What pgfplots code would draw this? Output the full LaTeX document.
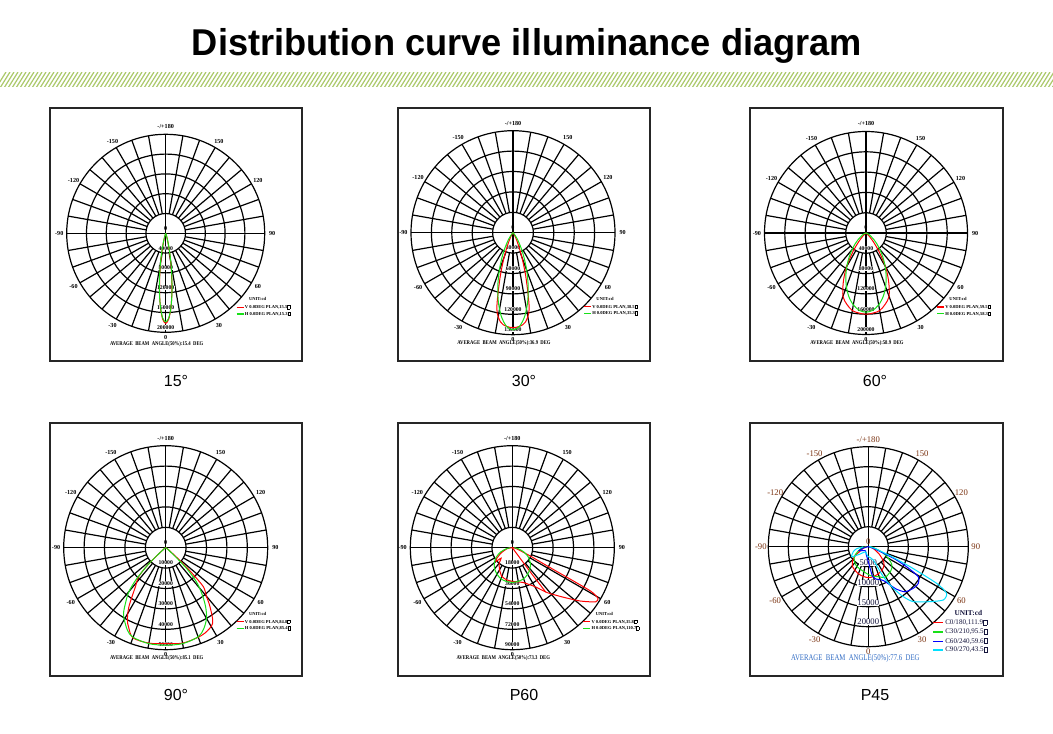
\documentclass[border=0pt]{standalone}
\usepackage{pgfplots}
\pgfplotsset{compat=1.18}
\usepackage{pgfplotstable}
\usepackage{graphicx}
\usepackage{fontspec}
\setmainfont{Liberation Serif}
\newfontfamily\sansf{Liberation Sans}

\definecolor{band}{HTML}{9CBF4F}
\definecolor{cgreen}{HTML}{18E018}
\definecolor{ccyan}{HTML}{00E0FF}
\definecolor{brn}{HTML}{7A3210}
\definecolor{avgblue}{HTML}{2F6BC4}
\definecolor{navy}{HTML}{14143C}

\newcommand\tf{\fontsize{4.3}{5}\selectfont\bfseries}
\newcommand\af{\fontsize{4.6}{5}\selectfont\bfseries}
\newcommand\lf{\fontsize{3.4}{4}\selectfont\bfseries}
\newcommand\mf{\fontsize{6.5}{7.5}\selectfont}
\newcommand\sq{{\setlength\fboxsep{0pt}\setlength\fboxrule{0.35pt}\fbox{\rule{0pt}{0.65em}\hspace{0.45em}}}}

\newcommand\setpanel[3]{\def\pcx{#1}\def\pcy{#2}\def\pR{#3}\pgfmathsetlengthmacro\pRl{#3*0.75pt}}

\newcommand\pgrid{%
\begin{scope}[shift={(\pcx*0.75pt,-\pcy*0.75pt)},x=\pRl,y=\pRl,line width=0.9pt]
 \foreach \r in {0.2,0.4,0.6,0.8,1.0}{\draw (0,0) circle[radius=\r];}
 \foreach \a in {0,10,...,350}{\draw (\a:0.2) -- (\a:1);}
 \draw (-1,0) -- (1,0); \draw (0,-1) -- (0,1);
\end{scope}}

\newcommand\alabels[2]{%
\begin{scope}[shift={(\pcx*0.75pt,-\pcy*0.75pt)},x=\pRl,y=\pRl,every node/.style={font=#1,text=#2,inner sep=0pt}]
 \node at (90:1.075) {-/+180};
 \foreach \t in {150,120,90,60,30}{\node at ({\t-90}:1.075) {\t}; \node at ({-\t-90}:1.075) {-\t};}
 \node at (-90:1.05) {0};
 \node at (0,0.05) {0};
\end{scope}}

\newcommand\rlabels[6]{%
\begin{scope}[shift={(\pcx*0.75pt,-\pcy*0.75pt)},x=\pRl,y=\pRl,every node/.style={font=#1,inner sep=0.2pt,fill=white}]
 \node at (0,-0.15) {#2}; \node at (0,-0.35) {#3}; \node at (0,-0.55) {#4};
 \node at (0,-0.75) {#5}; \node at (0,-0.95) {#6};
\end{scope}}

\newcommand\vhlegend[3]{%
\begin{scope}[shift={(\pcx*0.75pt,-\pcy*0.75pt)},x=0.75pt,y=-0.75pt]
 \node[font=\lf,inner sep=0pt] at (92,66) {UNIT:cd};
 \draw[red,line width=0.8pt] (71,74) -- (78,74);
 \draw[cgreen,line width=0.8pt] (71,80.7) -- (78,80.7);
 \node[font=\lf,anchor=west,inner sep=0pt] at (79,74) {V 0.0DEG PLAN,#1\sq};
 \node[font=\lf,anchor=west,inner sep=0pt] at (79,80.7) {H 0.0DEG PLAN,#2\sq};
 \node[font=\tf,inner sep=0pt] at (-9,110.5) {\scalebox{0.82}[1]{AVERAGE\ \ BEAM\ \ ANGLE(50\%):#3\ \ DEG}};
\end{scope}}

\pgfplotsset{
 pstyle/.style={anchor=center, hide axis, clip=false, xmin=-1.2, xmax=1.2, ymin=-1.2, ymax=1.2,
   at={(\pcx*0.75pt,-\pcy*0.75pt)}, x=\pRl, y=\pRl},
 table/pol/.style={x expr={\thisrow{v}/#1*sin(\thisrow{a})}, y expr={-\thisrow{v}/#1*cos(\thisrow{a})}}
}

% ---------- data (angle a in degrees from nadir, intensity v in cd) ----------
\pgfplotstableread{
a v
-30 0
-25 200
-20 1700
-18 4100
-16 9100
-14 18400
-12 33900
-10 56600
-8 86100
-6 119600
-4 151100
-2 173600
0 182000
2 173600
4 151100
6 119600
8 86100
10 56600
12 33900
14 18400
16 9100
18 4100
20 1700
25 200
30 0
}\pAv
\pgfplotstableread{
a v
-30 0
-25 600
-20 2300
-18 5400
-16 11200
-14 21500
-12 37600
-10 60700
-8 89500
-6 121200
-4 150500
-2 171500
0 179000
2 171500
4 150500
6 121200
8 89500
10 60700
12 37600
14 21500
16 11200
18 5400
20 2300
25 600
30 0
}\pAh
\pgfplotstableread{
a v
-50 0
-40 500
-36 1400
-32 4200
-28 8400
-24 18100
-20 37700
-16 69800
-12 114400
-8 132500
-4 138100
0 139500
4 138100
8 132500
12 114400
16 69800
20 37700
24 18100
28 8400
32 4200
36 1400
40 500
50 0
}\pBv
\pgfplotstableread{
a v
-55 0
-48 1000
-44 2000
-40 4000
-36 8000
-32 14600
-28 25000
-24 39800
-20 58800
-16 80900
-12 103800
-8 124000
-4 138000
0 143000
4 138000
8 124000
12 103800
16 80900
20 58800
24 39800
28 25000
32 14600
36 8000
40 4000
44 2000
48 1000
55 0
}\pBh
\pgfplotstableread{
a v
-70 0
-60 600
-50 3200
-45 9600
-40 22400
-35 44800
-30 76800
-25 105600
-20 132800
-15 145600
-10 155200
-5 158400
0 160000
5 158400
10 155200
15 145600
20 132800
25 105600
30 76800
35 44800
40 22400
45 9600
50 3200
60 600
70 0
}\pCv
\pgfplotstableread{
a v
-85 0
-70 3100
-60 8400
-50 20600
-45 30300
-40 42700
-35 57900
-30 75200
-25 94100
-20 112800
-15 130100
-10 143800
-5 152900
0 156000
5 152900
10 143800
15 130100
20 112800
25 94100
30 75200
35 57900
40 42700
45 30300
50 20600
60 8400
70 3100
85 0
}\pCh
\pgfplotstableread{
a v
-70 0
-60 500
-55 1000
-50 2500
-48 6000
-46 12500
-43 19500
-38 24000
-32 34000
-28 40000
-25 43000
-20 47000
-10 47500
0 47000
10 47500
19 46750
25 46000
32 43500
37 36000
40 31000
44 26500
46 17500
48 9000
50 4000
55 1500
60 500
70 0
}\pDv
\pgfplotstableread{
a v
-70 0
-60 500
-50 2500
-48 6000
-46 12500
-43 21000
-40 28000
-36 33500
-32 39000
-25 44500
-20 46750
-10 47750
0 47750
10 47750
20 46500
25 44000
30 40000
34 35000
38 29000
42 22500
45 15000
47 7500
50 2500
60 500
70 0
}\pDh
\pgfplotstableread{
a v
-90 0
-80 4500
-65 10800
-55 17100
-50 18900
-47 13500
-40 18000
-30 22500
-20 27000
-10 28800
0 29700
10 30600
18 32400
25 36000
30 39600
38 50400
46 63000
52 76500
57 87750
59.5 87750
61 79200
61.5 58500
62.4 35100
65 18000
70 7200
80 2700
90 0
}\pEv
\pgfplotstableread{
a v
36 0
36.5 25000
37 49000
}\pEvi
\pgfplotstableread{
a v
-90 1800
-80 5400
-70 10800
-60 16200
-50 20700
-40 24300
-30 27000
-20 29250
-10 30150
0 30600
10 30150
20 29250
30 27000
40 24300
50 20700
60 16200
70 10800
80 5400
90 1800
}\pEh
\pgfplotstableread{
a v
-90 500
-70 1500
-53 4500
-40 6250
-19 7250
1 7750
20 7250
35 6500
45 5500
56 3250
70 1250
90 250
}\pFa
\pgfplotstableread{
a v
-90 500
-75 2000
-55 4250
-35 5500
-19 6000
4.5 7250
20 8000
29 8750
43 8250
52 7500
59 6000
68 3750
80 1250
90 250
}\pFb
\pgfplotstableread{
a v
-90 0
-75 1250
-67 2500
-55 1750
-35 1250
-15 2000
0 3750
8 7500
12.6 8250
24 9250
33 12500
39 14500
47 15300
53.7 15500
59 14600
62 11250
65 7500
67 3750
72 1500
90 0
}\pFc
\pgfplotstableread{
a v
-90 1250
-80 3000
-71.6 3950
-59 4850
-50 3000
-30 1500
-10 2000
0 2500
20.6 3550
26.6 8400
31 12150
35 15250
39.3 17750
48.3 20650
54.6 23000
59.2 22800
61.8 19400
64.4 11550
67 6250
72 2500
80 1000
90 250
}\pFd

\begin{document}
\begin{tikzpicture}
\begin{scope}[x=0.75pt,y=-0.75pt]
 \fill[white] (0,0) rectangle (1053,734);
 \node[font=\sansf\bfseries\fontsize{28}{32}\selectfont,inner sep=0pt] at (527,46) {\scalebox{0.97}[1]{Distribution curve illuminance diagram}};
 \begin{scope}
  \clip (0,73) rectangle (1053,87);
  \foreach \i in {0,...,265}{\draw[band!85,line width=0.9pt] (\i*4-4,88) -- (\i*4+6,72);}
 \end{scope}
 \begin{scope}[line width=1.1pt,black!85]
  \draw (50,108) rectangle (302,361);
  \draw (398,108) rectangle (650,361);
  \draw (750,108) rectangle (1003,361);
  \draw (50,423) rectangle (302,676);
  \draw (398,423) rectangle (650,676);
  \draw (750,423) rectangle (1003,676);
 \end{scope}
 \begin{scope}[every node/.style={font=\sansf\fontsize{12}{14}\selectfont,inner sep=0pt}]
  \node at (176,381) {15°};
  \node at (524,381) {30°};
  \node at (875,381) {60°};
  \node at (176,695) {90°};
  \node at (524,695) {P60};
  \node at (875,695) {P45};
 \end{scope}
\end{scope}

% ---- panel 1: 15 deg
\setpanel{165.7}{233.3}{99}
\pgrid \alabels{\af}{black} \rlabels{\tf}{40000}{80000}{120000}{160000}{200000}
\vhlegend{15.5}{15.3}{15.4}
\begin{axis}[pstyle]
\addplot[red,line width=0.75pt,smooth,no marks] table[pol=200000] {\pAv};
\addplot[cgreen,line width=0.75pt,smooth,no marks] table[pol=200000] {\pAh};
\end{axis}

% ---- panel 2: 30 deg
\setpanel{513}{232.7}{102}
\pgrid \alabels{\af}{black} \rlabels{\tf}{30000}{60000}{90000}{120000}{150000}
\vhlegend{38.5}{35.3}{36.9}
\begin{axis}[pstyle]
\addplot[red,line width=0.75pt,smooth,no marks] table[pol=150000] {\pBv};
\addplot[cgreen,line width=0.75pt,smooth,no marks] table[pol=150000] {\pBh};
\end{axis}

% ---- panel 3: 60 deg
\setpanel{866}{233}{101.5}
\pgrid \alabels{\af}{black} \rlabels{\tf}{40000}{80000}{120000}{160000}{200000}
\vhlegend{59.5}{58.3}{58.9}
\begin{axis}[pstyle]
\addplot[red,line width=0.75pt,smooth,no marks] table[pol=200000] {\pCv};
\addplot[cgreen,line width=0.75pt,smooth,no marks] table[pol=200000] {\pCh};
\end{axis}

% ---- panel 4: 90 deg
\setpanel{165.7}{547.7}{102}
\pgrid \alabels{\af}{black} \rlabels{\tf}{10000}{20000}{30000}{40000}{50000}
\vhlegend{84.8}{85.4}{85.1}
\begin{axis}[pstyle]
\addplot[red,line width=0.75pt,smooth,no marks] table[pol=50000] {\pDv};
\addplot[cgreen,line width=0.75pt,smooth,no marks] table[pol=50000] {\pDh};
\end{axis}

% ---- panel 5: P60
\setpanel{512.3}{547.7}{102}
\pgrid \alabels{\af}{black} \rlabels{\tf}{18000}{36000}{54000}{72000}{90000}
\vhlegend{35.8}{110.7}{73.3}
\begin{axis}[pstyle]
\addplot[red,line width=0.75pt,smooth,tension=0.35,no marks] table[pol=90000] {\pEv};
\addplot[red,line width=0.75pt,no marks] table[pol=90000] {\pEvi};
\addplot[cgreen,line width=0.75pt,smooth,no marks] table[pol=90000] {\pEh};
\end{axis}

% ---- panel 6: P45
\setpanel{868.3}{546.7}{100}
\pgrid \alabels{\mf}{brn}
\begin{scope}[shift={(\pcx*0.75pt,-\pcy*0.75pt)},x=\pRl,y=\pRl,every node/.style={font=\mf,text=navy,inner sep=0.2pt,fill=white}]
 \node at (0,-0.16) {5000}; \node at (0,-0.36) {10000}; \node at (0,-0.56) {15000}; \node at (0,-0.75) {20000};
\end{scope}
\begin{scope}[shift={(\pcx*0.75pt,-\pcy*0.75pt)},x=0.75pt,y=-0.75pt]
 \node[font=\fontsize{5.5}{6}\selectfont\bfseries,text=navy,inner sep=0pt] at (100,66) {UNIT:cd};
 \draw[red,line width=0.8pt] (65,76) -- (75,76);
 \draw[cgreen,line width=0.8pt] (65,85.3) -- (75,85.3);
 \draw[blue,line width=0.8pt] (65,94.6) -- (75,94.6);
 \draw[ccyan,line width=0.8pt] (65,103.3) -- (75,103.3);
 \begin{scope}[every node/.style={font=\fontsize{5.3}{6}\selectfont,text=navy,anchor=west,inner sep=0pt}]
  \node at (76.7,76) {C0/180,111.9\sq};
  \node at (76.7,85.3) {C30/210,95.5\sq};
  \node at (76.7,94.6) {C60/240,59.6\sq};
  \node at (76.7,103.3) {C90/270,43.5\sq};
 \end{scope}
 \node[font=\mf,text=avgblue,inner sep=0pt] at (-13,112) {\scalebox{0.78}[1]{AVERAGE\ \ BEAM\ \ ANGLE(50\%):77.6\ \ DEG}};
\end{scope}
\begin{axis}[pstyle]
\addplot[red,line width=0.75pt,smooth,no marks] table[pol=25000] {\pFa};
\addplot[cgreen,line width=0.75pt,smooth,no marks] table[pol=25000] {\pFb};
\addplot[blue,line width=0.75pt,smooth,tension=0.4,no marks] table[pol=25000] {\pFc};
\addplot[ccyan,line width=0.75pt,smooth,tension=0.4,no marks] table[pol=25000] {\pFd};
\end{axis}

\pgfresetboundingbox
\path[use as bounding box] (0,0) rectangle (789.75pt,-550.5pt);
\end{tikzpicture}
\end{document}
